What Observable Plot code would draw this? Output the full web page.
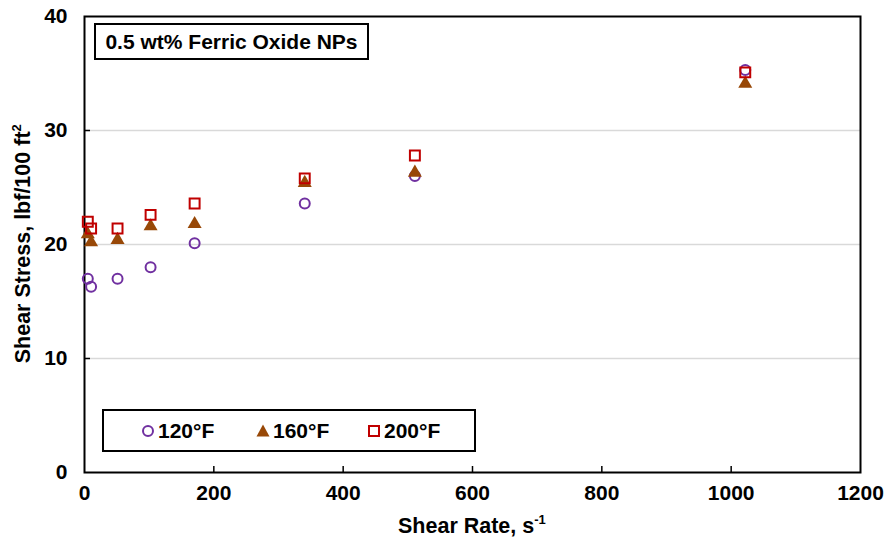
<!DOCTYPE html>
<html><head><meta charset="utf-8">
<script src="https://cdn.jsdelivr.net/npm/d3@7"></script>
<script src="https://cdn.jsdelivr.net/npm/@observablehq/plot@0.6"></script>
<style>
body{margin:0;background:#fff;}
#wrap{position:relative;width:886px;height:543px;font-family:"Liberation Sans",Arial,sans-serif;font-weight:bold;color:#000;overflow:hidden;}
#wrap > svg{position:absolute;left:0;top:0;}
.box{position:absolute;border:2px solid #000;background:#fff;box-sizing:border-box;}
.lbl{position:absolute;white-space:nowrap;font-size:21.5px;line-height:1;}
.lbl sup{font-size:13px;vertical-align:9px;line-height:0;}
.item{position:absolute;top:50%;transform:translateY(-50%);display:flex;align-items:center;font-size:21px;white-space:nowrap;}
#wrap .item svg{position:static;margin-right:3px;}
</style></head>
<body><div id="wrap"></div>
<script>
const shearRate = [5.11, 10.22, 51.1, 102.2, 170.3, 340.6, 510.9, 1021.8];
const stress120 = [17.0, 16.3, 17.0, 18.0, 20.1, 23.6, 26.0, 35.3];
const stress160 = [20.9, 20.2, 20.4, 21.6, 21.8, 25.4, 26.3, 34.1];
const stress200 = [22.0, 21.4, 21.4, 22.6, 23.6, 25.8, 27.8, 35.1];
const seriesNames = ["120°F", "160°F", "200°F"];
const seriesColors = ["#7030A0", "#984807", "#C00000"];
const xTicks = [0, 200, 400, 600, 800, 1000, 1200];
const yTicks = [0, 10, 20, 30, 40];
const titleText = "0.5 wt% Ferric Oxide NPs";
const xTitle = "Shear Rate, s";
const xTitleSup = "-1";
const yTitle = "Shear Stress, lbf/100 ft";
const yTitleSup = "2";

const rows = (vals) => shearRate.map((x, i) => ({x, y: vals[i]}));
const d120 = rows(stress120), d160 = rows(stress160), d200 = rows(stress200);

const font = '"Liberation Sans", Arial, sans-serif';
const chart = Plot.plot({
  width: 886, height: 543,
  marginLeft: 84, marginRight: 26, marginTop: 16, marginBottom: 71,
  x: {domain: [0, 1200]},
  y: {domain: [0, 40]},
  style: {fontFamily: font, fontWeight: "bold", fontSize: "21px", color: "#000", background: "transparent"},
  marks: [
    Plot.gridY(yTicks.slice(1, -1), {stroke: "#d9d9d9", strokeOpacity: 1, strokeWidth: 1.5}),
    Plot.axisX(xTicks.slice(1, -1), {tickSize: -6, strokeWidth: 1.5, tickFormat: () => "", label: null}),
    Plot.axisY(yTicks.slice(1, -1), {tickSize: -6, strokeWidth: 1.5, tickFormat: () => "", label: null}),
    Plot.axisX(xTicks, {tickSize: 0, tickPadding: 13, label: null, fontSize: 21, tickFormat: d => String(d)}),
    Plot.axisY(yTicks, {tickSize: 0, tickPadding: 17, label: null, fontSize: 21, tickFormat: d => String(d)}),
    Plot.frame({stroke: "#000", strokeWidth: 2}),
    Plot.dot(d120, {x: "x", y: "y", symbol: "circle", r: 5, stroke: seriesColors[0], strokeWidth: 2, fill: "none"}),
    Plot.dot(d160, {x: "x", y: "y", symbol: "triangle", r: 5.2, fill: seriesColors[1], stroke: "none"}),
    Plot.dot(d200, {x: "x", y: "y", symbol: "square", r: 5.6, stroke: seriesColors[2], strokeWidth: 2, fill: "none"})
  ]
});

const wrap = document.getElementById("wrap");
wrap.appendChild(chart);

// title box
const tb = document.createElement("div");
tb.className = "box";
Object.assign(tb.style, {left: "94px", top: "23px", width: "275px", height: "37px",
  display: "flex", alignItems: "center", justifyContent: "center", fontSize: "21px"});
tb.textContent = titleText;
wrap.appendChild(tb);

// x axis title
const xt = document.createElement("div");
xt.className = "lbl";
xt.innerHTML = `${xTitle}<sup>${xTitleSup}</sup>`;
wrap.appendChild(xt);
xt.style.left = (472 - xt.offsetWidth / 2) + "px";
xt.style.top = (527 - xt.offsetHeight / 2) + "px";

// y axis title
const yt = document.createElement("div");
yt.className = "lbl";
yt.innerHTML = `${yTitle}<sup>${yTitleSup}</sup>`;
wrap.appendChild(yt);
yt.style.left = (23 - yt.offsetWidth / 2) + "px";
yt.style.top = (244 - yt.offsetHeight / 2) + "px";
yt.style.transform = "rotate(-90deg)";

// legend
const lg = document.createElement("div");
lg.className = "box";
Object.assign(lg.style, {left: "102px", top: "409px", width: "374px", height: "43px"});
wrap.appendChild(lg);
const sym = [
  `<svg width="14" height="14" viewBox="-7 -7 14 14"><circle r="5" fill="none" stroke="${seriesColors[0]}" stroke-width="2"/></svg>`,
  `<svg width="14" height="14" viewBox="-7 -7 14 14"><path d="M0,-6.5L6.5,5.5L-6.5,5.5Z" fill="${seriesColors[1]}"/></svg>`,
  `<svg width="14" height="14" viewBox="-7 -7 14 14"><rect x="-5" y="-5" width="10" height="10" fill="none" stroke="${seriesColors[2]}" stroke-width="2"/></svg>`
];
const itemLeft = [37, 152, 263];
seriesNames.forEach((name, i) => {
  const it = document.createElement("div");
  it.className = "item";
  it.style.left = itemLeft[i] + "px";
  it.innerHTML = sym[i] + `<span>${name}</span>`;
  lg.appendChild(it);
});
</script>
</body></html>
